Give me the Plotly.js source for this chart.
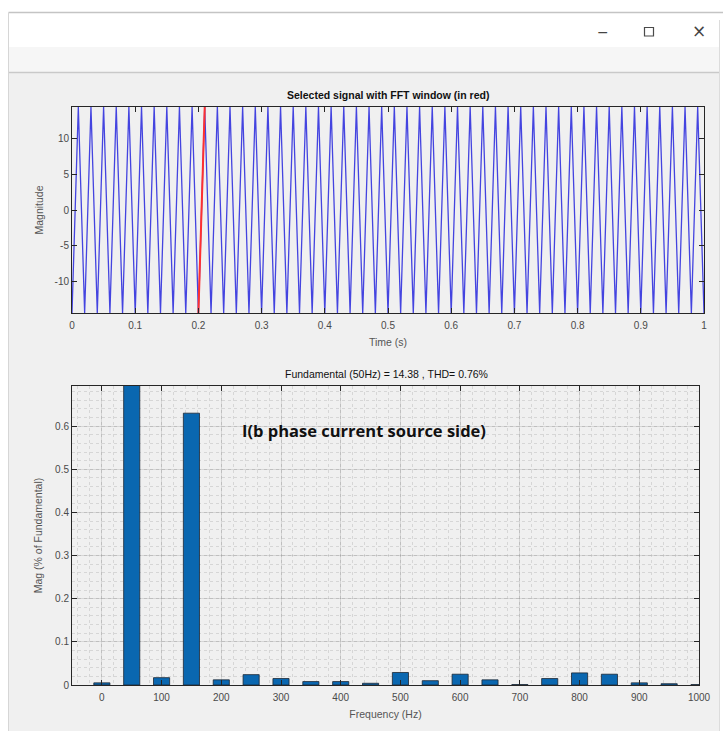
<!DOCTYPE html>
<html>
<head>
<meta charset="utf-8">
<script src="https://cdn.plot.ly/plotly-3.0.1.min.js"></script>
<style>
  html, body { margin: 0; padding: 0; background: #ffffff; }
  #chart { width: 723px; height: 731px; }
</style>
</head>
<body>
<div id="chart"></div>
<script>
// ---- Data ----
// Time-domain signal: peaks/troughs of the 50 Hz current (amplitude 14.38)
const sigTime = [0,0.01,0.02,0.03,0.04,0.05,0.06,0.07,0.08,0.09,
  0.10,0.11,0.12,0.13,0.14,0.15,0.16,0.17,0.18,0.19,
  0.20,0.21,0.22,0.23,0.24,0.25,0.26,0.27,0.28,0.29,
  0.30,0.31,0.32,0.33,0.34,0.35,0.36,0.37,0.38,0.39,
  0.40,0.41,0.42,0.43,0.44,0.45,0.46,0.47,0.48,0.49,
  0.50,0.51,0.52,0.53,0.54,0.55,0.56,0.57,0.58,0.59,
  0.60,0.61,0.62,0.63,0.64,0.65,0.66,0.67,0.68,0.69,
  0.70,0.71,0.72,0.73,0.74,0.75,0.76,0.77,0.78,0.79,
  0.80,0.81,0.82,0.83,0.84,0.85,0.86,0.87,0.88,0.89,
  0.90,0.91,0.92,0.93,0.94,0.95,0.96,0.97,0.98,0.99,1.00];
const sigValue = [-14.38,14.38,-14.38,14.38,-14.38,14.38,-14.38,14.38,-14.38,14.38,
  -14.38,14.38,-14.38,14.38,-14.38,14.38,-14.38,14.38,-14.38,14.38,
  -14.38,14.38,-14.38,14.38,-14.38,14.38,-14.38,14.38,-14.38,14.38,
  -14.38,14.38,-14.38,14.38,-14.38,14.38,-14.38,14.38,-14.38,14.38,
  -14.38,14.38,-14.38,14.38,-14.38,14.38,-14.38,14.38,-14.38,14.38,
  -14.38,14.38,-14.38,14.38,-14.38,14.38,-14.38,14.38,-14.38,14.38,
  -14.38,14.38,-14.38,14.38,-14.38,14.38,-14.38,14.38,-14.38,14.38,
  -14.38,14.38,-14.38,14.38,-14.38,14.38,-14.38,14.38,-14.38,14.38,
  -14.38,14.38,-14.38,14.38,-14.38,14.38,-14.38,14.38,-14.38,14.38,
  -14.38,14.38,-14.38,14.38,-14.38,14.38,-14.38,14.38,-14.38,14.38,-14.38];
// FFT window (red)
const winTime = [0.20, 0.21];
const winValue = [-14.38, 14.38];

// Harmonic spectrum (% of fundamental)
const freqHz = [0,50,100,150,200,250,300,350,400,450,500,550,600,650,700,750,800,850,900,950,1000];
const magPct = [0.005,100,0.017,0.63,0.012,0.024,0.015,0.008,0.008,0.004,0.029,0.010,0.025,0.012,0.001,0.015,0.028,0.025,0.005,0.003,0.001];

const timeTicks = [0,0.1,0.2,0.3,0.4,0.5,0.6,0.7,0.8,0.9,1];
const timeTickText = ['0','0.1','0.2','0.3','0.4','0.5','0.6','0.7','0.8','0.9','1'];
const magTicks = [-10,-5,0,5,10];
const magTickText = ['-10','-5','0','5','10'];
const freqTicks = [0,100,200,300,400,500,600,700,800,900,1000];
const pctTicks = [0,0.1,0.2,0.3,0.4,0.5,0.6];
const pctTickText = ['0','0.1','0.2','0.3','0.4','0.5','0.6'];

const titleTop = 'Selected signal with FFT window (in red)';
const titleBottom = 'Fundamental (50Hz) = 14.38 , THD= 0.76%';
const noteText = 'I(b phase current source side)';

// ---- Layout helpers (page pixel -> paper fraction) ----
const W = 723, H = 731;
const px = v => v / W;
const py = v => 1 - v / H;

const FONT = 'Liberation Sans, Arial, sans-serif';
const AX = '#262626';
const TICKFONT = {family: FONT, size: 10, color: '#4a4a4a'};
const LABELFONT = {family: FONT, size: 10.5, color: '#555555'};

const traces = [
  {x: sigTime, y: sigValue, type: 'scatter', mode: 'lines',
   line: {color: '#4444e0', width: 1.3}, xaxis: 'x', yaxis: 'y', hoverinfo: 'skip'},
  {x: winTime, y: winValue, type: 'scatter', mode: 'lines',
   line: {color: '#ff3030', width: 2}, xaxis: 'x', yaxis: 'y', hoverinfo: 'skip'},
  {x: freqHz, y: magPct, type: 'bar', width: 27,
   marker: {color: '#0a67b0', line: {color: '#1d2733', width: 0.8}},
   xaxis: 'x2', yaxis: 'y2', hoverinfo: 'skip'}
];

const commonAxis = {
  showline: true, linecolor: AX, linewidth: 1, mirror: 'ticks',
  ticks: 'inside', ticklen: 5, tickcolor: AX, tickwidth: 1,
  tickfont: TICKFONT, zeroline: false
};

const layout = {
  width: W, height: H,
  margin: {l: 0, r: 0, t: 0, b: 0, pad: 0},
  paper_bgcolor: '#ffffff',
  plot_bgcolor: '#ffffff',
  showlegend: false,
  font: {family: FONT, size: 10, color: '#262626'},
  xaxis: Object.assign({}, commonAxis, {
    domain: [px(72), px(704)], anchor: 'y', range: [0, 1],
    tickmode: 'array', tickvals: timeTicks, ticktext: timeTickText,
    ticklabelstandoff: 3,
    showgrid: false,
    title: {text: 'Time (s)', font: LABELFONT, standoff: 8}
  }),
  yaxis: Object.assign({}, commonAxis, {
    domain: [py(313), py(107)], anchor: 'x', range: [-14.38, 14.38],
    tickmode: 'array', tickvals: magTicks, ticktext: magTickText,
    showgrid: false,
    title: {text: 'Magnitude', font: LABELFONT, standoff: 8}
  }),
  xaxis2: Object.assign({}, commonAxis, {
    domain: [px(72), px(699)], anchor: 'y2', range: [-50, 1000],
    tickmode: 'array', tickvals: freqTicks,
    ticklabelstandoff: 3,
    showgrid: true, gridcolor: 'rgba(38,38,38,0.13)', gridwidth: 1,
    minor: {dtick: 20, showgrid: true, gridcolor: 'rgba(38,38,38,0.13)', griddash: 'dot', gridwidth: 1, ticks: ''},
    title: {text: 'Frequency (Hz)', font: LABELFONT, standoff: 8}
  }),
  yaxis2: Object.assign({}, commonAxis, {
    domain: [py(685), py(386)], anchor: 'x2', range: [0, 0.693],
    tickmode: 'array', tickvals: pctTicks, ticktext: pctTickText,
    showgrid: true, gridcolor: 'rgba(38,38,38,0.13)', gridwidth: 1,
    minor: {dtick: 0.02, showgrid: true, gridcolor: 'rgba(38,38,38,0.13)', griddash: 'dot', gridwidth: 1, ticks: ''},
    title: {text: 'Mag (% of Fundamental)', font: LABELFONT, standoff: 10}
  }),
  shapes: [
    // figure background
    {type: 'rect', xref: 'paper', yref: 'paper', x0: px(8.5), x1: px(719), y0: py(731), y1: py(73),
     fillcolor: '#f0f0f0', line: {width: 0}, layer: 'below'},
    // toolbar band
    {type: 'rect', xref: 'paper', yref: 'paper', x0: px(8.5), x1: px(720), y0: py(72), y1: py(47),
     fillcolor: '#f6f6f6', line: {width: 0}, layer: 'below'},
    // separator line under toolbar
    {type: 'line', xref: 'paper', yref: 'paper', x0: px(8.5), x1: px(720), y0: py(72.5), y1: py(72.5),
     line: {color: '#c9c9c9', width: 1.5}, layer: 'below'},
    // top border of window
    {type: 'line', xref: 'paper', yref: 'paper', x0: px(8.5), x1: px(723), y0: py(12.5), y1: py(12.5),
     line: {color: '#c4c4c4', width: 1.5}, layer: 'below'},
    // left border of window
    {type: 'line', xref: 'paper', yref: 'paper', x0: px(8.5), x1: px(8.5), y0: py(12.5), y1: py(731),
     line: {color: '#d6d6d6', width: 1}, layer: 'below'},
    // right border of window
    {type: 'line', xref: 'paper', yref: 'paper', x0: px(719.5), x1: px(719.5), y0: py(20), y1: py(731),
     line: {color: '#dcdcdc', width: 1}, layer: 'below'},
    // maximize box
    {type: 'rect', xref: 'paper', yref: 'paper', x0: px(644.5), x1: px(653.5), y0: py(36), y1: py(27.5),
     fillcolor: 'rgba(0,0,0,0)', line: {color: '#4a4a4a', width: 1.2}, layer: 'below'}
  ],
  annotations: [
    {text: titleTop, xref: 'paper', yref: 'paper', x: px(388), y: py(95),
     xanchor: 'center', yanchor: 'middle', showarrow: false,
     font: {family: FONT, size: 10.5, color: '#111111', weight: 'bold'}},
    {text: titleBottom, xref: 'paper', yref: 'paper', x: px(386), y: py(374),
     xanchor: 'center', yanchor: 'middle', showarrow: false,
     font: {family: FONT, size: 10.5, color: '#111111'}},
    {text: noteText, xref: 'paper', yref: 'paper', x: px(240), y: py(431),
     xanchor: 'left', yanchor: 'middle', showarrow: false,
     font: {family: 'Open Sans, Noto Sans, sans-serif', size: 16.5, color: '#111111', weight: 'bold'}},
    {text: '\u2212', xref: 'paper', yref: 'paper', x: px(603), y: py(32),
     xanchor: 'center', yanchor: 'middle', showarrow: false,
     font: {family: 'DejaVu Sans, sans-serif', size: 14, color: '#444444'}},
    {text: '\u00d7', xref: 'paper', yref: 'paper', x: px(699), y: py(31.5),
     xanchor: 'center', yanchor: 'middle', showarrow: false,
     font: {family: 'DejaVu Sans, sans-serif', size: 17, color: '#444444'}}
  ]
};

Plotly.newPlot('chart', traces, layout, {staticPlot: true, displayModeBar: false});
</script>
</body>
</html>
